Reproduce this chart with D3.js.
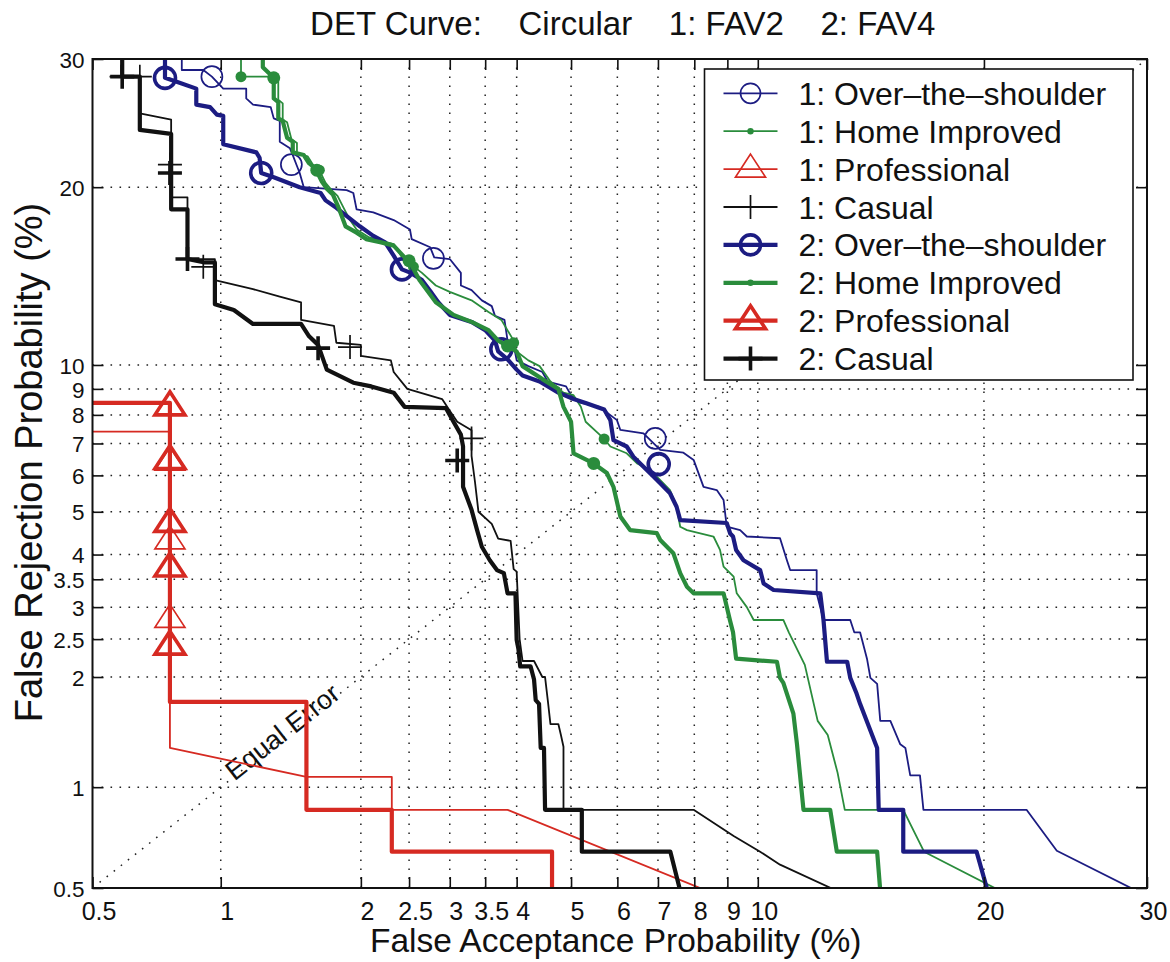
<!DOCTYPE html>
<html>
<head>
<meta charset="utf-8">
<script src="https://cdn.jsdelivr.net/npm/d3@7"></script>
<style>
  body { margin: 0; background: #fff; }
  svg { display: block; font-family: "Liberation Sans", Arial, Helvetica, sans-serif; }
</style>
</head>
<body>
<svg id="chart" width="1170" height="962"></svg>
<script>
// ---- Tick values (percent) ----
const xTicks = [0.5, 1, 2, 2.5, 3, 3.5, 4, 5, 6, 7, 8, 9, 10, 20, 30];
const yTicks = [0.5, 1, 2, 2.5, 3, 3.5, 4, 5, 6, 7, 8, 9, 10, 20, 30];
const xTickLabels = ["0.5", "1", "2", "2.5", "3", "3.5", "4", "5", "6", "7", "8", "9", "10", "20", "30"];
const yTickLabels = ["0.5", "1", "2", "2.5", "3", "3.5", "4", "5", "6", "7", "8", "9", "10", "20", "30"];

// ---- DET curves: [false acceptance %, false rejection %] ----
const ots1 = [[0.815,40],[0.815,29.06],[0.913,29.06],[0.955,28.5],[1.013,27.5],[1.14,27.5],[1.14,26.7],[1.18,26.2],[1.29,26.0],[1.31,25.1],[1.35,24.9],[1.35,23.3],[1.42,22.8],[1.44,22.3],[1.47,21.5],[1.49,21.0],[1.52,20.0],[1.87,19.8],[1.93,19.6],[1.96,18.5],[2.12,18.3],[2.33,17.8],[2.51,17.2],[2.53,16.6],[2.75,16.1],[2.8,15.5],[3.0,15.4],[3.15,14.6],[3.15,13.9],[3.3,13.65],[3.45,13.1],[3.6,12.8],[3.65,12.3],[3.8,12.1],[3.85,11.1],[3.95,10.9],[4.0,10.2],[4.2,9.95],[4.45,9.7],[4.55,9.3],[4.9,9.1],[5.0,8.75],[5.2,8.45],[5.6,8.3],[5.99,7.81],[6.07,7.46],[6.63,7.34],[7.06,6.79],[7.69,6.7],[7.98,6.47],[8.27,5.67],[8.67,5.58],[8.88,5.31],[8.98,4.63],[9.41,4.55],[9.63,4.4],[10.78,4.36],[11.03,3.88],[11.15,3.68],[12.16,3.68],[12.16,3.24],[12.43,2.79],[13.53,2.79],[13.7,2.6],[13.95,2.6],[14.25,2.23],[14.4,1.99],[14.7,1.92],[14.84,1.53],[15.3,1.53],[15.76,1.32],[16.0,1.29],[16.23,1.08],[16.7,1.08],[16.87,0.86],[22.4,0.86],[24.2,0.65],[29.3,0.49]];
const ots1Marks = [[0.955,28.5],[1.43,21.6],[2.79,15.44],[6.93,7.17]];

const hi1 = [[1.11,40],[1.11,28.5],[1.34,28.5],[1.34,26.6],[1.37,26.3],[1.37,25.0],[1.4,24.8],[1.43,23.5],[1.47,23.2],[1.47,22.4],[1.55,22.2],[1.59,21.6],[1.64,21.2],[1.69,20.3],[1.74,19.8],[1.79,19.4],[1.85,18.5],[1.9,17.8],[1.96,17.2],[2.08,16.7],[2.33,16.3],[2.42,15.5],[2.65,14.6],[2.82,13.9],[3.0,13.55],[3.3,13.1],[3.55,12.5],[3.75,12.1],[3.95,11.1],[4.0,10.6],[4.2,10.2],[4.4,9.95],[4.6,9.3],[4.85,8.85],[5.05,8.75],[5.2,8.3],[5.3,7.75],[5.6,7.3],[5.7,7.15],[5.84,6.9],[6.22,6.68],[6.47,6.36],[6.8,6.16],[7.06,5.86],[7.32,5.58],[7.5,5.13],[7.6,4.63],[7.79,4.55],[8.57,4.4],[8.77,4.1],[8.88,3.75],[9.2,3.55],[9.3,3.24],[9.63,3.0],[9.86,2.79],[10.9,2.79],[11.1,2.6],[11.7,2.15],[12.2,1.53],[12.6,1.4],[13.0,1.1],[13.3,0.86],[15.9,0.86],[16.9,0.646],[20.9,0.49]];
const hi1Marks = [[1.11,28.5],[1.64,21.2],[2.55,14.95],[3.95,11.0],[5.7,7.15]];

const pro1 = [[0.4,7.4],[0.765,7.4],[0.765,1.29],[1.54,1.07],[2.31,1.07],[2.31,0.86],[3.85,0.86],[8.37,0.49]];
const pro1Marks = [[0.765,6.4],[0.765,4.3],[0.765,2.8]];

const cas1 = [[0.55,28.5],[0.65,28.5],[0.65,25.5],[0.77,25.0],[0.77,19.3],[0.84,19.3],[0.84,15.4],[0.97,15.4],[0.97,14.2],[1.18,13.7],[1.35,13.3],[1.5,13.0],[1.5,12.1],[1.76,11.8],[1.78,11.0],[2.0,10.9],[2.0,10.4],[2.3,10.2],[2.33,9.7],[2.48,9.0],[2.9,8.6],[3.0,8.15],[3.1,7.75],[3.3,7.45],[3.3,6.6],[3.35,5.8],[3.4,5.0],[3.6,4.7],[3.7,4.35],[3.9,4.3],[3.95,3.7],[4.0,3.65],[4.05,2.5],[4.1,2.2],[4.3,2.2],[4.45,2.0],[4.5,2.0],[4.55,1.74],[4.6,1.5],[4.75,1.5],[4.8,1.4],[4.85,1.3],[4.85,0.86],[7.98,0.86],[9.2,0.72],[10.08,0.646],[10.78,0.59],[12.97,0.49]];
const cas1Marks = [[0.65,28.5],[0.765,21.6],[0.913,14.95],[1.9,10.8],[3.3,7.17]];

const ots2 = [[0.745,40],[0.745,28.4],[0.79,28.1],[0.88,27.5],[0.88,26.2],[0.946,26.0],[0.98,25.4],[1.013,25.3],[1.013,23.1],[1.2,22.5],[1.22,22.1],[1.23,21.0],[1.31,20.7],[1.49,20.0],[1.65,19.6],[1.69,19.1],[1.78,18.6],[1.99,17.4],[2.12,16.8],[2.24,16.4],[2.33,15.6],[2.42,14.8],[2.52,14.6],[2.65,14.2],[2.75,13.6],[2.85,13.0],[3.0,12.35],[3.3,12.0],[3.5,11.6],[3.65,11.1],[3.7,10.6],[3.85,10.25],[4.0,9.8],[4.1,9.55],[4.4,9.3],[4.75,8.85],[5.05,8.6],[5.3,8.45],[5.7,8.2],[5.84,7.81],[5.91,7.11],[6.22,6.9],[6.38,6.57],[6.63,6.26],[6.89,5.96],[7.06,5.77],[7.32,5.49],[7.5,5.13],[7.6,4.79],[8.98,4.72],[9.09,4.47],[9.18,4.4],[9.28,4.1],[9.52,3.88],[10.08,3.68],[10.2,3.42],[10.55,3.3],[12.3,3.24],[12.43,2.79],[12.57,2.19],[13.4,2.19],[13.53,1.99],[13.8,1.81],[13.95,1.7],[14.7,1.29],[14.77,0.86],[15.9,0.86],[15.9,0.646],[19.6,0.646],[20.2,0.49]];
const ots2Marks = [[0.745,28.4],[1.23,21.0],[2.42,14.8],[3.75,10.7],[7.02,6.34]];

const hi2 = [[1.24,40],[1.24,29.3],[1.31,28.4],[1.31,26.7],[1.34,26.4],[1.34,25.1],[1.37,24.9],[1.4,23.6],[1.44,23.3],[1.44,22.5],[1.52,22.3],[1.56,21.7],[1.61,21.3],[1.66,20.4],[1.7,19.9],[1.75,19.5],[1.8,18.6],[1.86,17.4],[1.96,17.0],[2.05,16.6],[2.2,16.4],[2.33,16.2],[2.45,15.5],[2.5,15.3],[2.62,14.2],[2.82,13.0],[3.05,12.35],[3.3,12.0],[3.55,11.6],[3.7,11.1],[3.85,10.85],[4.0,10.6],[4.1,9.95],[4.45,9.4],[4.75,9.0],[4.85,8.3],[5.0,7.75],[5.05,6.68],[5.47,6.36],[5.76,6.07],[5.91,5.67],[6.07,4.88],[6.3,4.55],[6.97,4.48],[7.06,4.32],[7.41,4.03],[7.6,3.62],[7.79,3.36],[7.98,3.24],[8.88,3.24],[9.08,2.79],[9.18,2.6],[9.28,2.23],[10.67,2.19],[10.78,1.99],[10.9,1.93],[11.27,1.6],[11.4,1.33],[11.65,0.86],[12.7,0.86],[12.97,0.646],[14.7,0.646],[14.84,0.49]];
const hi2Marks = [[1.31,28.4],[1.62,21.2],[2.5,15.3],[3.85,10.85],[5.47,6.36]];

const pro2 = [[0.4,8.45],[0.765,8.45],[0.765,1.72],[1.54,1.72],[1.54,0.86],[2.31,0.86],[2.31,0.646],[4.63,0.646],[4.63,0.4]];
const pro2Marks = [[0.765,8.3],[0.765,6.45],[0.765,4.71],[0.765,3.72],[0.765,2.4]];

const cas2 = [[0.59,40],[0.59,28.5],[0.65,28.5],[0.65,24.2],[0.77,23.9],[0.77,18.5],[0.84,18.5],[0.84,15.4],[0.92,15.2],[0.97,15.2],[0.97,12.9],[1.07,12.6],[1.18,11.9],[1.5,11.9],[1.56,11.3],[1.63,10.9],[1.7,9.8],[1.93,9.25],[2.1,9.1],[2.33,8.85],[2.45,8.3],[2.95,8.25],[3.05,7.75],[3.15,7.3],[3.18,6.9],[3.18,5.67],[3.3,5.05],[3.38,4.55],[3.45,4.17],[3.57,3.88],[3.68,3.68],[3.79,3.62],[3.85,3.24],[3.98,3.24],[4.0,2.49],[4.03,2.36],[4.06,2.13],[4.24,2.13],[4.3,1.97],[4.33,1.74],[4.39,1.7],[4.42,1.29],[4.48,1.29],[4.5,0.86],[5.22,0.86],[5.22,0.646],[7.33,0.646],[7.6,0.49]];
const cas2Marks = [[0.59,28.5],[0.765,21.0],[0.84,15.4],[1.63,10.75],[3.1,6.45]];

// ---- Legend entries ----
const seriesNames = ["1: Over\u2013the\u2013shoulder", "1: Home Improved", "1: Professional", "1: Casual",
                     "2: Over\u2013the\u2013shoulder", "2: Home Improved", "2: Professional", "2: Casual"];

const titleText = "DET Curve:    Circular    1: FAV2    2: FAV4";
const xLabel = "False Acceptance Probability (%)";
const yLabel = "False Rejection Probability (%)";

// ---- Colours & strokes ----
const BLUE = "#1c1c82", GREEN = "#2a8c3c", RED = "#d62a22", BLACK = "#111111";
const THIN = 1.8, THICK = 4.2;

const series = [
  { name: seriesNames[0], data: ots1, marks: ots1Marks, color: BLUE,  width: THIN,  marker: "circle" },
  { name: seriesNames[1], data: hi1,  marks: hi1Marks,  color: GREEN, width: THIN,  marker: "dot" },
  { name: seriesNames[2], data: pro1, marks: pro1Marks, color: RED,   width: THIN,  marker: "triangle" },
  { name: seriesNames[3], data: cas1, marks: cas1Marks, color: BLACK, width: THIN,  marker: "plus" },
  { name: seriesNames[4], data: ots2, marks: ots2Marks, color: BLUE,  width: THICK, marker: "circle" },
  { name: seriesNames[5], data: hi2,  marks: hi2Marks,  color: GREEN, width: THICK, marker: "dot" },
  { name: seriesNames[6], data: pro2, marks: pro2Marks, color: RED,   width: THICK, marker: "triangle" },
  { name: seriesNames[7], data: cas2, marks: cas2Marks, color: BLACK, width: THICK, marker: "plus" }
];

// ---- Normal deviate (probit) transform, Acklam's approximation ----
function probit(p) {
  const a = [-3.969683028665376e+01, 2.209460984245205e+02, -2.759285104469687e+02, 1.383577518672690e+02, -3.066479806614716e+01, 2.506628277459239e+00];
  const b = [-5.447609879822406e+01, 1.615858368580409e+02, -1.556989798598866e+02, 6.680131188771972e+01, -1.328068155288572e+01];
  const c = [-7.784894002430293e-03, -3.223964580411365e-01, -2.400758277161838e+00, -2.549732539343734e+00, 4.374664141464968e+00, 2.938163982698783e+00];
  const d = [7.784695709041462e-03, 3.224671290700398e-01, 2.445134137142996e+00, 3.754408661907416e+00];
  const plow = 0.02425, phigh = 1 - plow;
  let q, r;
  if (p < plow) {
    q = Math.sqrt(-2 * Math.log(p));
    return (((((c[0]*q+c[1])*q+c[2])*q+c[3])*q+c[4])*q+c[5]) / ((((d[0]*q+d[1])*q+d[2])*q+d[3])*q+1);
  } else if (p <= phigh) {
    q = p - 0.5; r = q*q;
    return (((((a[0]*r+a[1])*r+a[2])*r+a[3])*r+a[4])*r+a[5])*q / (((((b[0]*r+b[1])*r+b[2])*r+b[3])*r+b[4])*r+1);
  } else {
    q = Math.sqrt(-2 * Math.log(1 - p));
    return -(((((c[0]*q+c[1])*q+c[2])*q+c[3])*q+c[4])*q+c[5]) / ((((d[0]*q+d[1])*q+d[2])*q+d[3])*q+1);
  }
}

// Percent-valued scale on a normal-deviate axis, usable by d3.axis
function probitScale(lo, hi, r0, r1) {
  const lin = d3.scaleLinear().domain([probit(lo / 100), probit(hi / 100)]).range([r0, r1]);
  const s = v => lin(probit(v / 100));
  s.domain = () => [lo, hi];
  s.range = () => lin.range();
  s.copy = () => probitScale(lo, hi, r0, r1);
  return s;
}

const plot = { left: 92.5, right: 1147, top: 59, bottom: 888 };
const x = probitScale(0.5, 30, plot.left, plot.right);
const y = probitScale(0.5, 30, plot.bottom, plot.top);

const svg = d3.select("#chart");
svg.append("rect").attr("width", 1170).attr("height", 962).attr("fill", "#fff");

svg.append("defs").append("clipPath").attr("id", "plotClip")
  .append("rect")
  .attr("x", plot.left).attr("y", plot.top)
  .attr("width", plot.right - plot.left).attr("height", plot.bottom - plot.top);

// ---- Grid ----
const grid = svg.append("g").attr("stroke", "#222").attr("stroke-width", 1.5)
  .attr("stroke-dasharray", "1.6,7.4").attr("fill", "none");
xTicks.slice(1, -1).forEach(v => {
  grid.append("line").attr("x1", x(v)).attr("x2", x(v)).attr("y1", plot.bottom).attr("y2", plot.top);
});
yTicks.slice(1, -1).forEach(v => {
  grid.append("line").attr("x1", plot.left).attr("x2", plot.right).attr("y1", y(v)).attr("y2", y(v));
});

// ---- Equal error diagonal ----
const diag = [[0.5, 0.5], [30, 30]];
svg.append("line")
  .attr("x1", x(diag[0][0])).attr("y1", y(diag[0][1]))
  .attr("x2", x(diag[1][0])).attr("y2", y(diag[1][1]))
  .attr("stroke", "#222").attr("stroke-width", 1.5).attr("stroke-dasharray", "1.6,7.4");
const eqAt = 1.06;
const ang = Math.atan2(y(diag[1][1]) - y(diag[0][1]), x(diag[1][0]) - x(diag[0][0])) * 180 / Math.PI;
svg.append("text")
  .attr("transform", `translate(${x(eqAt)},${y(eqAt)}) rotate(${ang})`)
  .attr("dy", 4)
  .attr("font-size", 27)
  .attr("fill", "#111")
  .text("Equal Error");

// ---- Curves ----
const line = d3.line().x(d => x(d[0])).y(d => y(d[1]));
const curves = svg.append("g").attr("clip-path", "url(#plotClip)");

function drawMarker(g, type, color, thick, px, py, legend) {
  const sw = thick ? 3.6 : 1.7;
  if (type === "circle") {
    g.append("circle").attr("cx", px).attr("cy", py).attr("r", legend ? 10 : 10.5)
      .attr("fill", "none").attr("stroke", color).attr("stroke-width", sw);
  } else if (type === "dot") {
    g.append("circle").attr("cx", px).attr("cy", py).attr("r", legend ? 3.2 : (thick ? 6.5 : 5.5))
      .attr("fill", color);
  } else if (type === "triangle") {
    g.append("path").attr("d", `M${px},${py - 15} L${px + 15},${py + 8} L${px - 15},${py + 8} Z`)
      .attr("fill", "none").attr("stroke", color).attr("stroke-width", sw).attr("stroke-linejoin", "miter");
  } else if (type === "plus") {
    g.append("path").attr("d", `M${px - 12},${py} H${px + 12} M${px},${py - 12} V${py + 12}`)
      .attr("fill", "none").attr("stroke", color).attr("stroke-width", sw);
  }
}

series.forEach(s => {
  curves.append("path").datum(s.data)
    .attr("d", line)
    .attr("fill", "none")
    .attr("stroke", s.color)
    .attr("stroke-width", s.width)
    .attr("stroke-linejoin", "round");
  s.marks.forEach(m => drawMarker(curves, s.marker, s.color, s.width === THICK, x(m[0]), y(m[1]), false));
});

// ---- Axes (inward ticks on all sides) ----
const tickLen = 11;
const axB = svg.append("g").attr("transform", `translate(0,${plot.bottom})`)
  .call(d3.axisBottom(x).tickValues(xTicks).tickFormat((d, i) => xTickLabels[i])
    .tickSizeInner(-tickLen).tickSizeOuter(0).tickPadding(14));
const axT = svg.append("g").attr("transform", `translate(0,${plot.top})`)
  .call(d3.axisTop(x).tickValues(xTicks).tickFormat("").tickSizeInner(-tickLen).tickSizeOuter(0));
const axL = svg.append("g").attr("transform", `translate(${plot.left},0)`)
  .call(d3.axisLeft(y).tickValues(yTicks).tickFormat((d, i) => yTickLabels[i])
    .tickSizeInner(-tickLen).tickSizeOuter(0).tickPadding(8));
const axR = svg.append("g").attr("transform", `translate(${plot.right},0)`)
  .call(d3.axisRight(y).tickValues(yTicks).tickFormat("").tickSizeInner(-tickLen).tickSizeOuter(0));

[axB, axT, axL, axR].forEach(a => {
  a.select(".domain").remove();
  a.selectAll(".tick line").attr("stroke", "#111").attr("stroke-width", 1.6);
  a.selectAll("text").attr("font-family", null).attr("fill", "#111");
});
axB.selectAll("text").attr("font-size", 25).attr("dx", 6);
axL.selectAll("text").attr("font-size", 22.5).attr("dy", "0.36em");

// Plot frame
svg.append("rect")
  .attr("x", plot.left).attr("y", plot.top)
  .attr("width", plot.right - plot.left).attr("height", plot.bottom - plot.top)
  .attr("fill", "none").attr("stroke", "#111").attr("stroke-width", 2);

// ---- Legend ----
const lg = { x: 704.5, y: 69, w: 428.5, h: 311, row0: 93.3, step: 37.9 };
const legend = svg.append("g");
legend.append("rect").attr("x", lg.x).attr("y", lg.y).attr("width", lg.w).attr("height", lg.h)
  .attr("fill", "#fff").attr("stroke", "#111").attr("stroke-width", 1.6);
series.forEach((s, i) => {
  const cy = lg.row0 + i * lg.step;
  legend.append("line").attr("x1", lg.x + 19).attr("x2", lg.x + 73).attr("y1", cy).attr("y2", cy)
    .attr("stroke", s.color).attr("stroke-width", s.width);
  drawMarker(legend, s.marker, s.color, s.width === THICK, lg.x + 46, cy, true);
  legend.append("text").attr("x", lg.x + 94).attr("y", cy).attr("dy", "0.36em")
    .attr("font-size", 32).attr("fill", "#111").text(s.name);
});

// ---- Titles ----
svg.append("text").attr("x", (plot.left + plot.right) / 2 + 3).attr("y", 35)
  .attr("text-anchor", "middle").attr("font-size", 33).attr("fill", "#111")
  .style("white-space", "pre").text(titleText);
svg.append("text").attr("x", (plot.left + plot.right) / 2 - 4).attr("y", 952)
  .attr("text-anchor", "middle").attr("font-size", 33.5).attr("fill", "#111").text(xLabel);
svg.append("text").attr("transform", `translate(42,${(plot.top + plot.bottom) / 2 - 11}) rotate(-90)`)
  .attr("text-anchor", "middle").attr("font-size", 38).attr("fill", "#111").text(yLabel);
</script>
</body>
</html>
